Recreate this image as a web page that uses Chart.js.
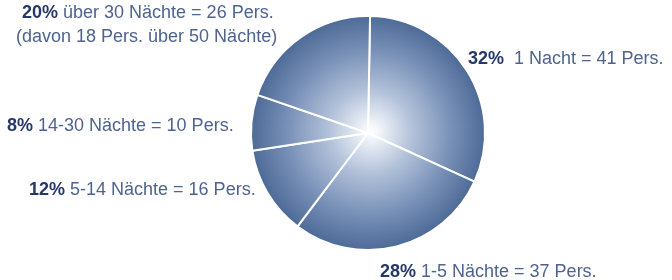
<!DOCTYPE html>
<html>
<head>
<meta charset="utf-8">
<script src="https://cdn.jsdelivr.net/npm/chart.js@4/dist/chart.umd.min.js"></script>
<style>
  html, body { margin: 0; padding: 0; background: #fff; }
  #wrap { width: 672px; height: 280px; }
</style>
</head>
<body>
<div id="wrap"><canvas id="pieChart" width="672" height="280"></canvas></div>
<script>
// data (persons per stay length)
const categories = ["1 Nacht", "1-5 Nächte", "5-14 Nächte", "14-30 Nächte", "über 30 Nächte"];
const persons = [41, 37, 16, 10, 26];
const percentLabels = ["32%", "28%", "12%", "8%", "20%"];
const textLabels = [
    ["  1 Nacht = 41 Pers."],
    [" 1-5 Nächte = 37 Pers."],
    [" 5-14 Nächte = 16 Pers."],
    [" 14-30 Nächte = 10 Pers."],
    [" über 30 Nächte = 26 Pers.", "(davon 18 Pers. über 50 Nächte)"]
];

// where each label sits (left x, baseline y)
const labelPos = [
    [468, 64],
    [380, 277],
    [29, 195],
    [7, 131],
    [22, 18]
];

function pieGradient(context) {
    const chart = context.chart;
    const area = chart.chartArea;
    if (!area) return "#4f6c9a";
    const cx = (area.left + area.right) / 2;
    const cy = (area.top + area.bottom) / 2;
    const r = Math.min(area.right - area.left, area.bottom - area.top) / 2;
    const g = chart.ctx.createRadialGradient(cx + 4, cy - 2, 0, cx, cy, r);
    g.addColorStop(0, "#ffffff");
    g.addColorStop(0.08, "#eef2f8");
    g.addColorStop(0.35, "#b3c2da");
    g.addColorStop(0.7, "#7890b7");
    g.addColorStop(1, "#4c6996");
    return g;
}

const labelPlugin = {
    id: "sideLabels",
    afterDraw(chart) {
        const ctx = chart.ctx;
        ctx.save();
        ctx.textBaseline = "alphabetic";
        ctx.textAlign = "left";
        textLabels.forEach((lines, i) => {
            let [x, y] = labelPos[i];
            ctx.font = "bold 18px 'Liberation Sans', Arial, sans-serif";
            ctx.fillStyle = "#26386a";
            ctx.fillText(percentLabels[i], x, y);
            const w = ctx.measureText(percentLabels[i]).width;
            ctx.font = "18px 'Liberation Sans', Arial, sans-serif";
            ctx.fillStyle = "#4f6390";
            ctx.fillText(lines[0], x + w, y);
            for (let k = 1; k < lines.length; k++) {
                ctx.fillText(lines[k], 16, y + 24 * k);
            }
        });
        ctx.restore();
    }
};

new Chart(document.getElementById("pieChart"), {
    type: "pie",
    data: {
        labels: categories,
        datasets: [{
            data: persons,
            backgroundColor: pieGradient,
            borderColor: "#ffffff",
            borderWidth: 2
        }]
    },
    options: {
        responsive: false,
        animation: false,
        rotation: 1,
        layout: { padding: { left: 250, right: 186, top: 15, bottom: 29 } },
        plugins: {
            legend: { display: false },
            tooltip: { enabled: false }
        }
    },
    plugins: [labelPlugin]
});
</script>
</body>
</html>
